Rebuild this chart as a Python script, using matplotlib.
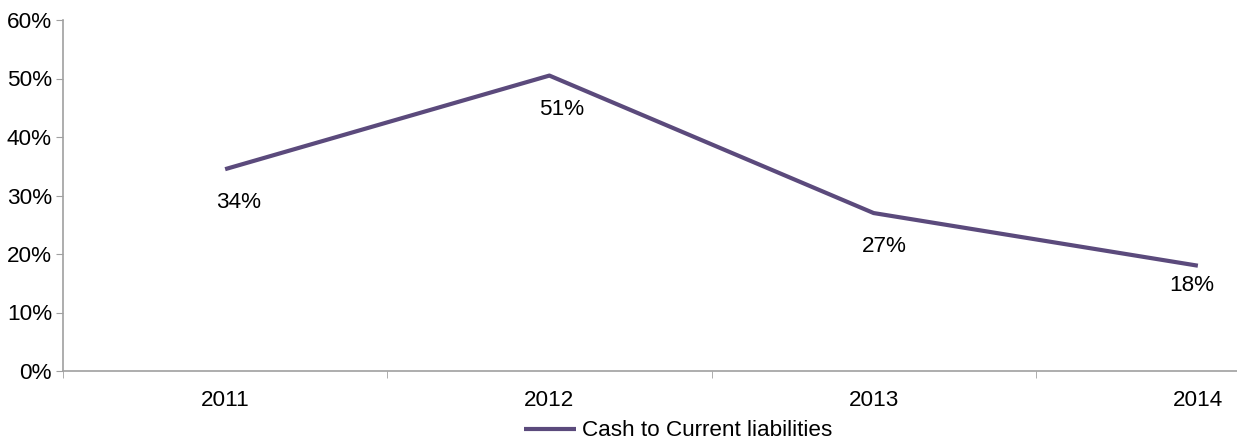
import matplotlib
matplotlib.use("Agg")
import matplotlib.pyplot as plt
from matplotlib.ticker import FixedLocator

plt.rcParams['font.family'] = ['Liberation Sans', 'DejaVu Sans']

years = ["2011", "2012", "2013", "2014"]
values = [34.5, 50.5, 27.0, 18.0]
labels = ["34%", "51%", "27%", "18%"]
series_name = "Cash to Current liabilities"

W, H = 1237, 443
FS = 16.2
fig = plt.figure(figsize=(W / 100, H / 100), dpi=100)
ax = fig.add_axes([63 / W, 1 - 371 / H, (1360 - 63) / W, (371 - 20) / H])

x = list(range(len(years)))
color = "#5b4a7c"
ax.plot(x, values, color=color, lw=3.0, solid_capstyle="butt", label=series_name)

offsets = [(10, -24), (8.5, -24.5), (7.5, -24), (-4.3, -14.4)]
for xi, v, lab, off in zip(x, values, labels, offsets):
    ax.annotate(lab, (xi, v), xytext=off, textcoords="offset points",
                ha="center", va="center", fontsize=FS, color="black")

ax.set_xlim(-0.5, 3.5)
ax.set_ylim(0, 60)
ax.set_yticks(range(0, 61, 10))
ax.set_yticklabels([f"{v}%" for v in range(0, 61, 10)])
ax.set_xticks(x)
ax.set_xticklabels(years)
ax.xaxis.set_minor_locator(FixedLocator([-0.5, 0.5, 1.5, 2.5, 3.5]))
ax.tick_params(axis="x", which="major", length=0, pad=14, labelsize=FS)
ax.tick_params(axis="x", which="minor", length=5, color="#a0a0a0", direction="out")
ax.tick_params(axis="y", length=5, color="#a0a0a0", labelsize=FS, pad=3)

for s in ["top", "right"]:
    ax.spines[s].set_visible(False)
for s in ["left", "bottom"]:
    ax.spines[s].set_color("#a0a0a0")
    ax.spines[s].set_linewidth(1.2)

fig.legend(loc="center", bbox_to_anchor=(678 / W, 1 - 431 / H), frameon=False,
           fontsize=FS, handlelength=2.3, handletextpad=0.25, borderpad=0,
           borderaxespad=0)

fig.savefig("out.png", dpi=100)
